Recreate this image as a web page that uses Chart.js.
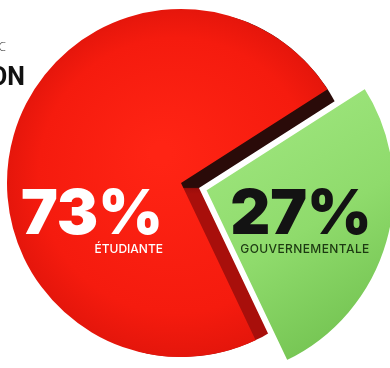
<!DOCTYPE html>
<html>
<head>
<meta charset="utf-8">
<script src="https://cdn.jsdelivr.net/npm/chart.js@4.4.1/dist/chart.umd.min.js"></script>
<style>
  html, body { margin: 0; padding: 0; background: #fff; overflow: hidden; }
  #wrap { position: relative; width: 390px; height: 368px; }
  #chart { position: absolute; left: 0; top: 0; }
  .head { position: absolute; white-space: nowrap; }
  .h1 { right: 384px; top: 38px; font: 300 12px "Open Sans", sans-serif; color: #444; }
  .h2 { right: 365px; top: 62px; font: bold 25px "Liberation Sans Narrow", "Roboto", sans-serif; color: #111; }
</style>
</head>
<body>
<div id="wrap">
  <canvas id="chart" width="390" height="368"></canvas>
  <div class="head h1">C</div>
  <div class="head h2">ON</div>
</div>
<script>
/* ====== DONNÉES ====== */
const categories  = ["GOUVERNEMENTALE", "ÉTUDIANTE"];
const shares      = [27, 73];
const shareLabels = ["27%", "73%"];

/* ====== COULEURS ====== */
function sliceFill(c) {
  const chart = c.chart, a = chart.chartArea;
  const flat = c.dataIndex === 0 ? "#8fdc6c" : "#f31b0e";
  if (!a) return flat;
  const cx = (a.left + a.right) / 2, cy = (a.top + a.bottom) / 2;
  if (c.dataIndex === 0) {
    const g = chart.ctx.createLinearGradient(cx + 20, cy - 100, cx + 190, cy + 175);
    g.addColorStop(0, "#a2e882");
    g.addColorStop(0.5, "#8fdb6c");
    g.addColorStop(1, "#6abb48");
    return g;
  }
  const g = chart.ctx.createRadialGradient(cx - 20, cy - 30, 10, cx, cy, 180);
  g.addColorStop(0, "#ff2414");
  g.addColorStop(0.75, "#f51b0e");
  g.addColorStop(1, "#e2150b");
  return g;
}

/* ====== PLUGINS ====== */
// tranche verte un peu plus grande + épaisseur sombre de la tranche rouge
const sidePlugin = {
  id: "side",
  beforeDatasetsDraw(chart) {
    const meta = chart.getDatasetMeta(0);
    const green = meta.data[0], red = meta.data[1];
    green.outerRadius = meta.controller.outerRadius * 1.1;

    const ctx = chart.ctx;
    ctx.save();
    ctx.beginPath();
    ctx.arc(red.x, red.y, red.outerRadius, 0, Math.PI * 2);
    ctx.clip();
    ctx.translate(18, 5);
    ctx.beginPath();
    ctx.moveTo(red.x, red.y);
    ctx.arc(red.x, red.y, red.outerRadius, red.startAngle, red.endAngle);
    ctx.closePath();
    const grad = ctx.createLinearGradient(0, red.y - 6, 0, red.y + 6);
    grad.addColorStop(0, "#2a0b09");
    grad.addColorStop(0.45, "#2a0b09");
    grad.addColorStop(0.55, "#9c0d0a");
    grad.addColorStop(1, "#a80f0b");
    ctx.fillStyle = grad;
    ctx.fill();
    ctx.restore();
  }
};

const labelPlugin = {
  id: "labels",
  afterDatasetsDraw(chart) {
    const ctx = chart.ctx;
    const red = chart.getDatasetMeta(0).data[1];
    ctx.save();
    ctx.textBaseline = "alphabetic";

    ctx.fillStyle = "#ffffff";
    ctx.textAlign = "right";
    ctx.font = '900 62px "Inter", sans-serif';
    ctx.fillText(shareLabels[1], red.x - 18, red.y + 51);
    ctx.font = '500 12px "Inter", sans-serif';
    ctx.fillText(categories[1], red.x - 18, red.y + 70);

    ctx.fillStyle = "#131313";
    ctx.textAlign = "center";
    ctx.font = '900 62px "Inter", sans-serif';
    ctx.fillText(shareLabels[0], red.x + 120, red.y + 51);
    ctx.fillStyle = "#1d3a12";
    ctx.letterSpacing = "0.4px";
    ctx.font = '500 12px "Inter", sans-serif';
    ctx.fillText(categories[0], red.x + 124, red.y + 70);
    ctx.restore();
  }
};

/* ====== CHART ====== */
new Chart(document.getElementById("chart").getContext("2d"), {
  type: "pie",
  data: {
    labels: categories,
    datasets: [{
      data: shares,
      backgroundColor: sliceFill,
      borderColor: ["#ffffff", "rgba(0,0,0,0)"],
      borderWidth: [4, 0],
      offset: [96, 0],
      clip: false
    }]
  },
  options: {
    responsive: false,
    animation: false,
    events: [],
    rotation: 57.4,
    radius: 174,
    layout: { padding: { left: 0, right: 28, top: 0, bottom: 2 } },
    plugins: {
      legend: { display: false },
      tooltip: { enabled: false }
    }
  },
  plugins: [sidePlugin, labelPlugin]
});
</script>
</body>
</html>
